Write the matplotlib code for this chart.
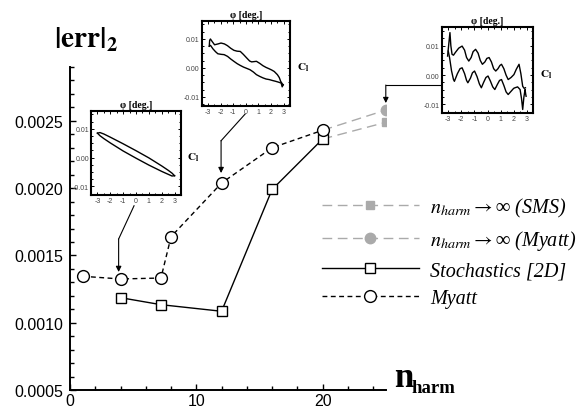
import matplotlib
matplotlib.use('Agg')
import matplotlib.pyplot as plt
from matplotlib.font_manager import FontProperties
from matplotlib.ticker import MultipleLocator, FormatStrFormatter

plt.rcParams['mathtext.fontset'] = 'stix'
plt.rcParams['font.family'] = ['Liberation Sans', 'DejaVu Sans']

# ---------------- main data ----------------
n_myatt = [1, 4, 7.2, 8, 12, 16, 20]
err_myatt = [0.001345, 0.001325, 0.001332, 0.001639, 0.002038, 0.00230, 0.00243]
n_stoch = [4, 7.2, 12, 16, 20]
err_stoch = [0.001186, 0.001134, 0.001085, 0.00199, 0.002365]
n_inf = [20, 25]
err_inf_myatt = [0.00243, 0.00258]
err_inf_sms = [0.002365, 0.002489]

labels = [r'$n_{harm} \rightarrow$∞ (SMS)',
          r'$n_{harm} \rightarrow$∞ (Myatt)',
          'Stochastics [2D]',
          'Myatt']

# ---------------- inset data (phi [deg.], C_l) ----------------
ell_phi_up = [-3.0, -2.8, -2.5, -2.0, -1.0, 0.0, 1.0, 2.0, 2.5, 2.8, 3.0]
ell_c_up = [0.0085, 0.0087, 0.0082, 0.0071, 0.0048, 0.0024, -0.0001, -0.0029, -0.0044, -0.0054, -0.0063]
ell_phi_lo = [-3.0, -2.8, -2.5, -2.0, -1.0, 0.0, 1.0, 2.0, 2.5, 2.8, 3.0]
ell_c_lo = [0.0085, 0.0076, 0.0066, 0.0051, 0.0023, -0.0002, -0.0026, -0.0048, -0.0058, -0.0064, -0.0063]

mid_phi_up = [-2.90, -2.87, -2.81, -2.65, -2.48, -2.2, -1.97, -1.7, -1.46, -1.2, -0.95, -0.7, -0.44,
              -0.2, 0.08, 0.3, 0.46, 0.65, 0.84, 1.1, 1.35, 1.6, 1.86, 2.05, 2.25, 2.50, 2.65, 2.76, 2.88, 2.96]
mid_c_up = [0.0075, 0.0095, 0.0100, 0.0090, 0.0080, 0.0083, 0.0086, 0.0083, 0.0077, 0.0068, 0.0061, 0.0058,
            0.0057, 0.0047, 0.0034, 0.0024, 0.0021, 0.0022, 0.0023, 0.0016, 0.0008, 0.0002, -0.0003, -0.0007,
            -0.0012, -0.0023, -0.0033, -0.0046, -0.0054, -0.0058]
mid_phi_lo = [-2.90, -2.80, -2.61, -2.4, -2.22, -1.95, -1.72, -1.45, -1.20, -0.95, -0.69, -0.45, -0.18,
              0.05, 0.33, 0.6, 0.84, 1.1, 1.35, 1.6, 1.86, 2.1, 2.37, 2.6, 2.80, 2.88, 2.96]
mid_c_lo = [0.0075, 0.0078, 0.0066, 0.0056, 0.0049, 0.0047, 0.0046, 0.0040, 0.0031, 0.0023, 0.0015, 0.0009,
            0.0003, -0.0001, -0.0006, -0.0014, -0.0023, -0.0029, -0.0034, -0.0038, -0.0040, -0.0043,
            -0.0046, -0.0049, -0.0052, -0.0065, -0.0058]

rt_phi_up = [-3.05, -2.95, -2.87, -2.80, -2.71, -2.6, -2.46, -2.2, -1.94, -1.75, -1.6, -1.43, -1.25, -1.1,
             -0.91, -0.72, -0.55, -0.39, -0.2, -0.05, 0.12, 0.3, 0.47, 0.63, 0.8, 0.95, 1.07, 1.25, 1.42,
             1.58, 1.8, 2.02, 2.2, 2.41, 2.55, 2.69, 2.8, 2.90]
rt_c_up = [0.0065, 0.0110, 0.0145, 0.0100, 0.0071, 0.0068, 0.0077, 0.0092, 0.0099, 0.0085, 0.0060, 0.0048,
           0.0060, 0.0080, 0.0088, 0.0075, 0.0050, 0.0037, 0.0045, 0.0057, 0.0060, 0.0045, 0.0022, 0.0014,
           0.0022, 0.0033, 0.0037, 0.0022, 0.0000, -0.0015, -0.0008, 0.0002, 0.0020, 0.0037, 0.0005,
           -0.0038, -0.0045, -0.0043]
rt_phi_lo = [-3.0, -2.9, -2.75, -2.6, -2.53, -2.3, -2.1, -1.94, -1.75, -1.6, -1.5, -1.3, -1.15, -0.99, -0.8,
             -0.62, -0.47, -0.3, -0.12, 0.04, 0.22, 0.4, 0.56, 0.75, 0.92, 1.07, 1.25, 1.42, 1.58, 1.8, 2.0,
             2.10, 2.3, 2.49, 2.6, 2.69, 2.78, 2.87, 2.92, 2.95]
rt_c_lo = [0.0082, 0.0060, 0.0015, -0.0015, -0.0021, 0.0005, 0.0022, 0.0025, 0.0005, -0.0018, -0.0026,
           -0.0010, 0.0008, 0.0014, -0.0005, -0.0030, -0.0043, -0.0025, -0.0008, -0.0003, -0.0020, -0.0040,
           -0.0049, -0.0032, -0.0018, -0.0015, -0.0035, -0.0057, -0.0066, -0.0055, -0.0045, -0.0043,
           -0.0040, -0.0049, -0.0080, -0.0117, -0.0075, -0.0049, -0.0065, -0.0072]

fig = plt.figure(figsize=(5.88, 4.10), dpi=100)
ax = fig.add_axes([70/588, 19/410, 315.8/588, 323/410])

gray = '#aaaaaa'
l_sms, = ax.plot(n_inf, err_inf_sms, color=gray, lw=1.0, dashes=(7, 4),
                 marker='s', ms=6, mfc=gray, mec=gray, markevery=[1], zorder=2)
l_gm, = ax.plot(n_inf, err_inf_myatt, color=gray, lw=1.0, dashes=(7, 4),
                marker='o', ms=7.5, mfc=gray, mec=gray, markevery=[1], zorder=2)
l_st, = ax.plot(n_stoch, err_stoch, color='black', lw=1.0, marker='s', ms=7,
                mfc='white', mec='black', mew=1.0, zorder=3)
l_my, = ax.plot(n_myatt, err_myatt, color='black', lw=1.0, dashes=(3.5, 2.5),
                marker='o', ms=8.5, mfc='white', mec='black', mew=1.0, zorder=4)

ax.set_xlim(0, 25)
ax.set_ylim(0.0005, 0.0029)
for s in ['top', 'right']:
    ax.spines[s].set_visible(False)
for s in ['left', 'bottom']:
    ax.spines[s].set_linewidth(1.4)
ax.xaxis.set_major_locator(MultipleLocator(10))
ax.xaxis.set_minor_locator(MultipleLocator(2))
ax.yaxis.set_major_locator(MultipleLocator(0.0005))
ax.yaxis.set_minor_locator(MultipleLocator(0.0001))
ax.yaxis.set_major_formatter(FormatStrFormatter('%.4f'))
ax.tick_params(which='both', direction='in', width=1.0, labelsize=11.5)
ax.tick_params(which='major', length=4.5)
ax.tick_params(which='minor', length=3)
ax.tick_params(axis='x', pad=2)
ax.tick_params(axis='y', pad=5)

# axis titles
fig.text(54/588, 1 - 48/410, r'$\mathbf{|err|_2}$', fontsize=21, va='baseline', ha='left')
serif_b = dict(family=['Liberation Serif', 'DejaVu Serif'], fontweight='bold')
fig.text(394/588, 1 - 387/410, 'n', fontsize=25, va='baseline', ha='left', **serif_b)
fig.text(411/588, 1 - 393/410, 'harm', fontsize=13.5, va='baseline', ha='left', **serif_b)

# legend
leg = fig.legend([l_sms, l_gm, l_st, l_my], labels, loc='upper left',
                 bbox_to_anchor=(322/588, 1 - 197/410), frameon=False,
                 prop=FontProperties(family=['Liberation Serif', 'DejaVu Serif'],
                                     style='italic', size=14.5),
                 handlelength=4.8, handletextpad=0.55, labelspacing=0.45,
                 borderpad=0, borderaxespad=0, numpoints=1)

# arrows (main-axes data coordinates)
def poly_arrow(xs, ys):
    ax.plot(xs[:-1], ys[:-1], color='black', lw=0.8, clip_on=False, zorder=5)
    ax.annotate('', xy=(xs[-1], ys[-1]), xytext=(xs[-2], ys[-2]),
                arrowprops=dict(arrowstyle='-|>', color='black', lw=0.8,
                                mutation_scale=8, shrinkA=0, shrinkB=0),
                annotation_clip=False, zorder=5)

poly_arrow([5.07, 3.85, 3.85], [0.001869, 0.001622, 0.001377])
poly_arrow([13.86, 11.96, 11.96], [0.00255, 0.002352, 0.002112])
poly_arrow([29.3, 25.0, 25.0], [0.002766, 0.002766, 0.002632])

# insets
def inset(rect, curves, cl_pos):
    a = fig.add_axes(rect)
    for px, cy in curves:
        a.plot(px, cy, color='black', lw=1.0)
    a.set_xlim(-3.5, 3.5)
    a.set_ylim(-0.013, 0.0163)
    a.xaxis.set_major_locator(MultipleLocator(1))
    a.xaxis.set_minor_locator(MultipleLocator(0.5))
    a.yaxis.set_major_locator(MultipleLocator(0.01))
    a.yaxis.set_minor_locator(MultipleLocator(0.0025))
    a.yaxis.set_major_formatter(FormatStrFormatter('%.2f'))
    a.xaxis.set_major_formatter(FormatStrFormatter('%d'))
    a.tick_params(which='both', direction='in', top=True, right=True,
                  labelsize=5, labelcolor='#444444', pad=1.5, width=0.7)
    a.tick_params(which='major', length=2.5)
    a.tick_params(which='minor', length=1.5)
    for s in a.spines.values():
        s.set_linewidth(1.5)
    a.set_title('φ [deg.]', fontsize=7, fontweight='bold',
                family=['Liberation Serif', 'DejaVu Serif'], pad=3)
    a.text(cl_pos[0], cl_pos[1], r'$\mathbf{C_l}$', transform=a.transAxes,
           fontsize=8, va='center', ha='left')
    return a

inset([91/588, 1 - 196/410, 90/588, 84.3/410],
      [(ell_phi_up, ell_c_up), (ell_phi_lo, ell_c_lo)], (1.07, 0.45))
inset([201.7/588, 1 - 106.7/410, 88.3/588, 85/410],
      [(mid_phi_up, mid_c_up), (mid_phi_lo, mid_c_lo)], (1.08, 0.455))
inset([441.7/588, 1 - 114.3/410, 91.6/588, 86/410],
      [(rt_phi_up, rt_c_up), (rt_phi_lo, rt_c_lo)], (1.07, 0.457))

fig.savefig('out.png', dpi=100)
